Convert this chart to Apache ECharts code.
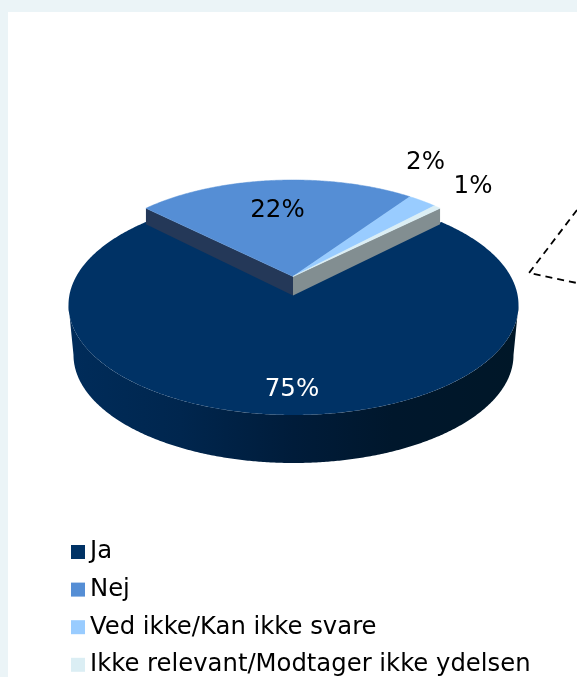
<!DOCTYPE html>
<html><head><meta charset="utf-8">
<style>html,body{margin:0;padding:0;background:#fff}#c{width:577px;height:677px}</style>
<script src="https://cdn.jsdelivr.net/npm/echarts@6/dist/echarts.min.js"></script>
</head><body><div id="c"></div>
<script>
var categories = ["Ja", "Nej", "Ved ikke/Kan ikke svare", "Ikke relevant/Modtager ikke ydelsen"];
var values = [75, 22, 2.4, 0.6];
var colors = ["#003265", "#558ED5", "#99CCFF", "#DBEEF4"];

var FONT = '"DejaVu Sans"';
var total = values.reduce(function (a, b) { return a + b; }, 0);
var firstAngle = 45;            // Ja starts 45 degrees clockwise from the top
var body = { cx: 293.5, cy: 305, rx: 225, ry: 110, warp: 0.903 };
var floor = { cx: 293.5, cy: 355, rx: 220, ry: 108 };
var lifted = { cx: 293, cy: 276.5, rx: 208, ry: 96.5, depth: 17 };
var labelAt = [[292, 390, "#fff"], [277.5, 211, "#000"], [425.5, 163, "#000"], [473, 187, "#000"]];

function onBody(deg) {
  var h = Math.tan(deg * Math.PI / 360) * body.warp, t = 2 * Math.atan(h);
  return [body.cx + body.rx * Math.sin(t), body.cy - body.ry * Math.cos(t)];
}
function onLifted(deg) {
  var t = deg * Math.PI / 180;
  return [lifted.cx + lifted.rx * Math.sin(t), lifted.cy - lifted.ry * Math.cos(t)];
}
function arc(fn, a, b) {
  var pts = [], n = Math.max(2, Math.ceil(Math.abs(b - a) * 2));
  for (var i = 0; i <= n; i++) pts.push(fn(a + (b - a) * i / n));
  return pts;
}
function angles(idx) {
  var s = firstAngle;
  for (var i = 0; i < idx; i++) s += values[i] / total * 360;
  return [s, s + values[idx] / total * 360];
}
function poly(points, fill, extra) {
  return { type: 'polygon', shape: { points: points }, style: { fill: fill, stroke: extra || null, lineWidth: extra ? 0.5 : 0 } };
}
function label(idx, value) {
  return { type: 'text', style: { x: labelAt[idx][0], y: labelAt[idx][1], text: Math.round(value) + '%', fill: labelAt[idx][2], font: '24.5px ' + FONT, align: 'center', verticalAlign: 'middle' }, z2: 100 };
}
function renderSlice(params, api) {
  var idx = params.seriesIndex, v = api.value(0), a = angles(idx), kids = [];
  if (idx === 0) {
    var wallTop = arc(function (d) { var t = d * Math.PI / 180; return [body.cx + body.rx * Math.sin(t), body.cy - body.ry * Math.cos(t)]; }, 90, 270);
    var wallBot = arc(function (d) { var t = d * Math.PI / 180; return [floor.cx + floor.rx * Math.sin(t), floor.cy - floor.ry * Math.cos(t)]; }, 270, 90);
    kids.push(poly(wallTop.concat(wallBot), new echarts.graphic.LinearGradient(0, 0, 1, 0, [
      { offset: 0, color: '#002C5A' }, { offset: 0.25, color: '#00264E' }, { offset: 0.5, color: '#001C3A' },
      { offset: 0.72, color: '#00172C' }, { offset: 1, color: '#001728' }])));
    kids.push(poly([[body.cx, body.cy - body.ry * 0.1]].concat(arc(onBody, a[0], a[1])), colors[0]));
  } else {
    var apex = [lifted.cx, lifted.cy];
    if (idx === 1) {
      var p = onLifted(a[0]);
      kids.push(poly([apex, p, [p[0], p[1] + lifted.depth - 1], [apex[0], apex[1] + lifted.depth + 2]], '#243858'));
    }
    if (idx === 3) {
      var q = onLifted(a[1]);
      kids.push(poly([apex, q, [q[0], q[1] + lifted.depth - 1], [apex[0], apex[1] + lifted.depth + 2]], '#828E91'));
    }
    kids.push(poly([apex].concat(arc(onLifted, a[0], a[1])), colors[idx], colors[idx]));
  }
  kids.push(label(idx, v));
  return { type: 'group', children: kids };
}

var chart = echarts.init(document.getElementById('c'), null, { renderer: 'canvas' });
chart.setOption({
  animation: false,
  backgroundColor: '#EBF4F7',
  legend: {
    orient: 'vertical', left: 71, top: 540, padding: 0,
    itemWidth: 14, itemHeight: 14, itemGap: 13.6, icon: 'rect',
    data: categories,
    textStyle: { fontFamily: FONT, fontSize: 24.3, color: '#000', padding: 0, lineHeight: 24 }
  },
  graphic: [
    { type: 'rect', z: -10, shape: { x: 8, y: 12, width: 569, height: 665 }, style: { fill: '#fff' } },
    { type: 'polyline', z: 5, shape: { points: [[577, 210], [529, 273], [577, 283]] }, style: { fill: null, stroke: '#000', lineWidth: 1.8, lineDash: [7, 5] } }
  ],
  series: categories.map(function (name, i) {
    return { type: 'custom', name: name, coordinateSystem: 'none', renderItem: renderSlice, silent: true,
      itemStyle: { color: colors[i] }, data: [[values[i]]], z: 2 + i };
  })
});
</script></body></html>
